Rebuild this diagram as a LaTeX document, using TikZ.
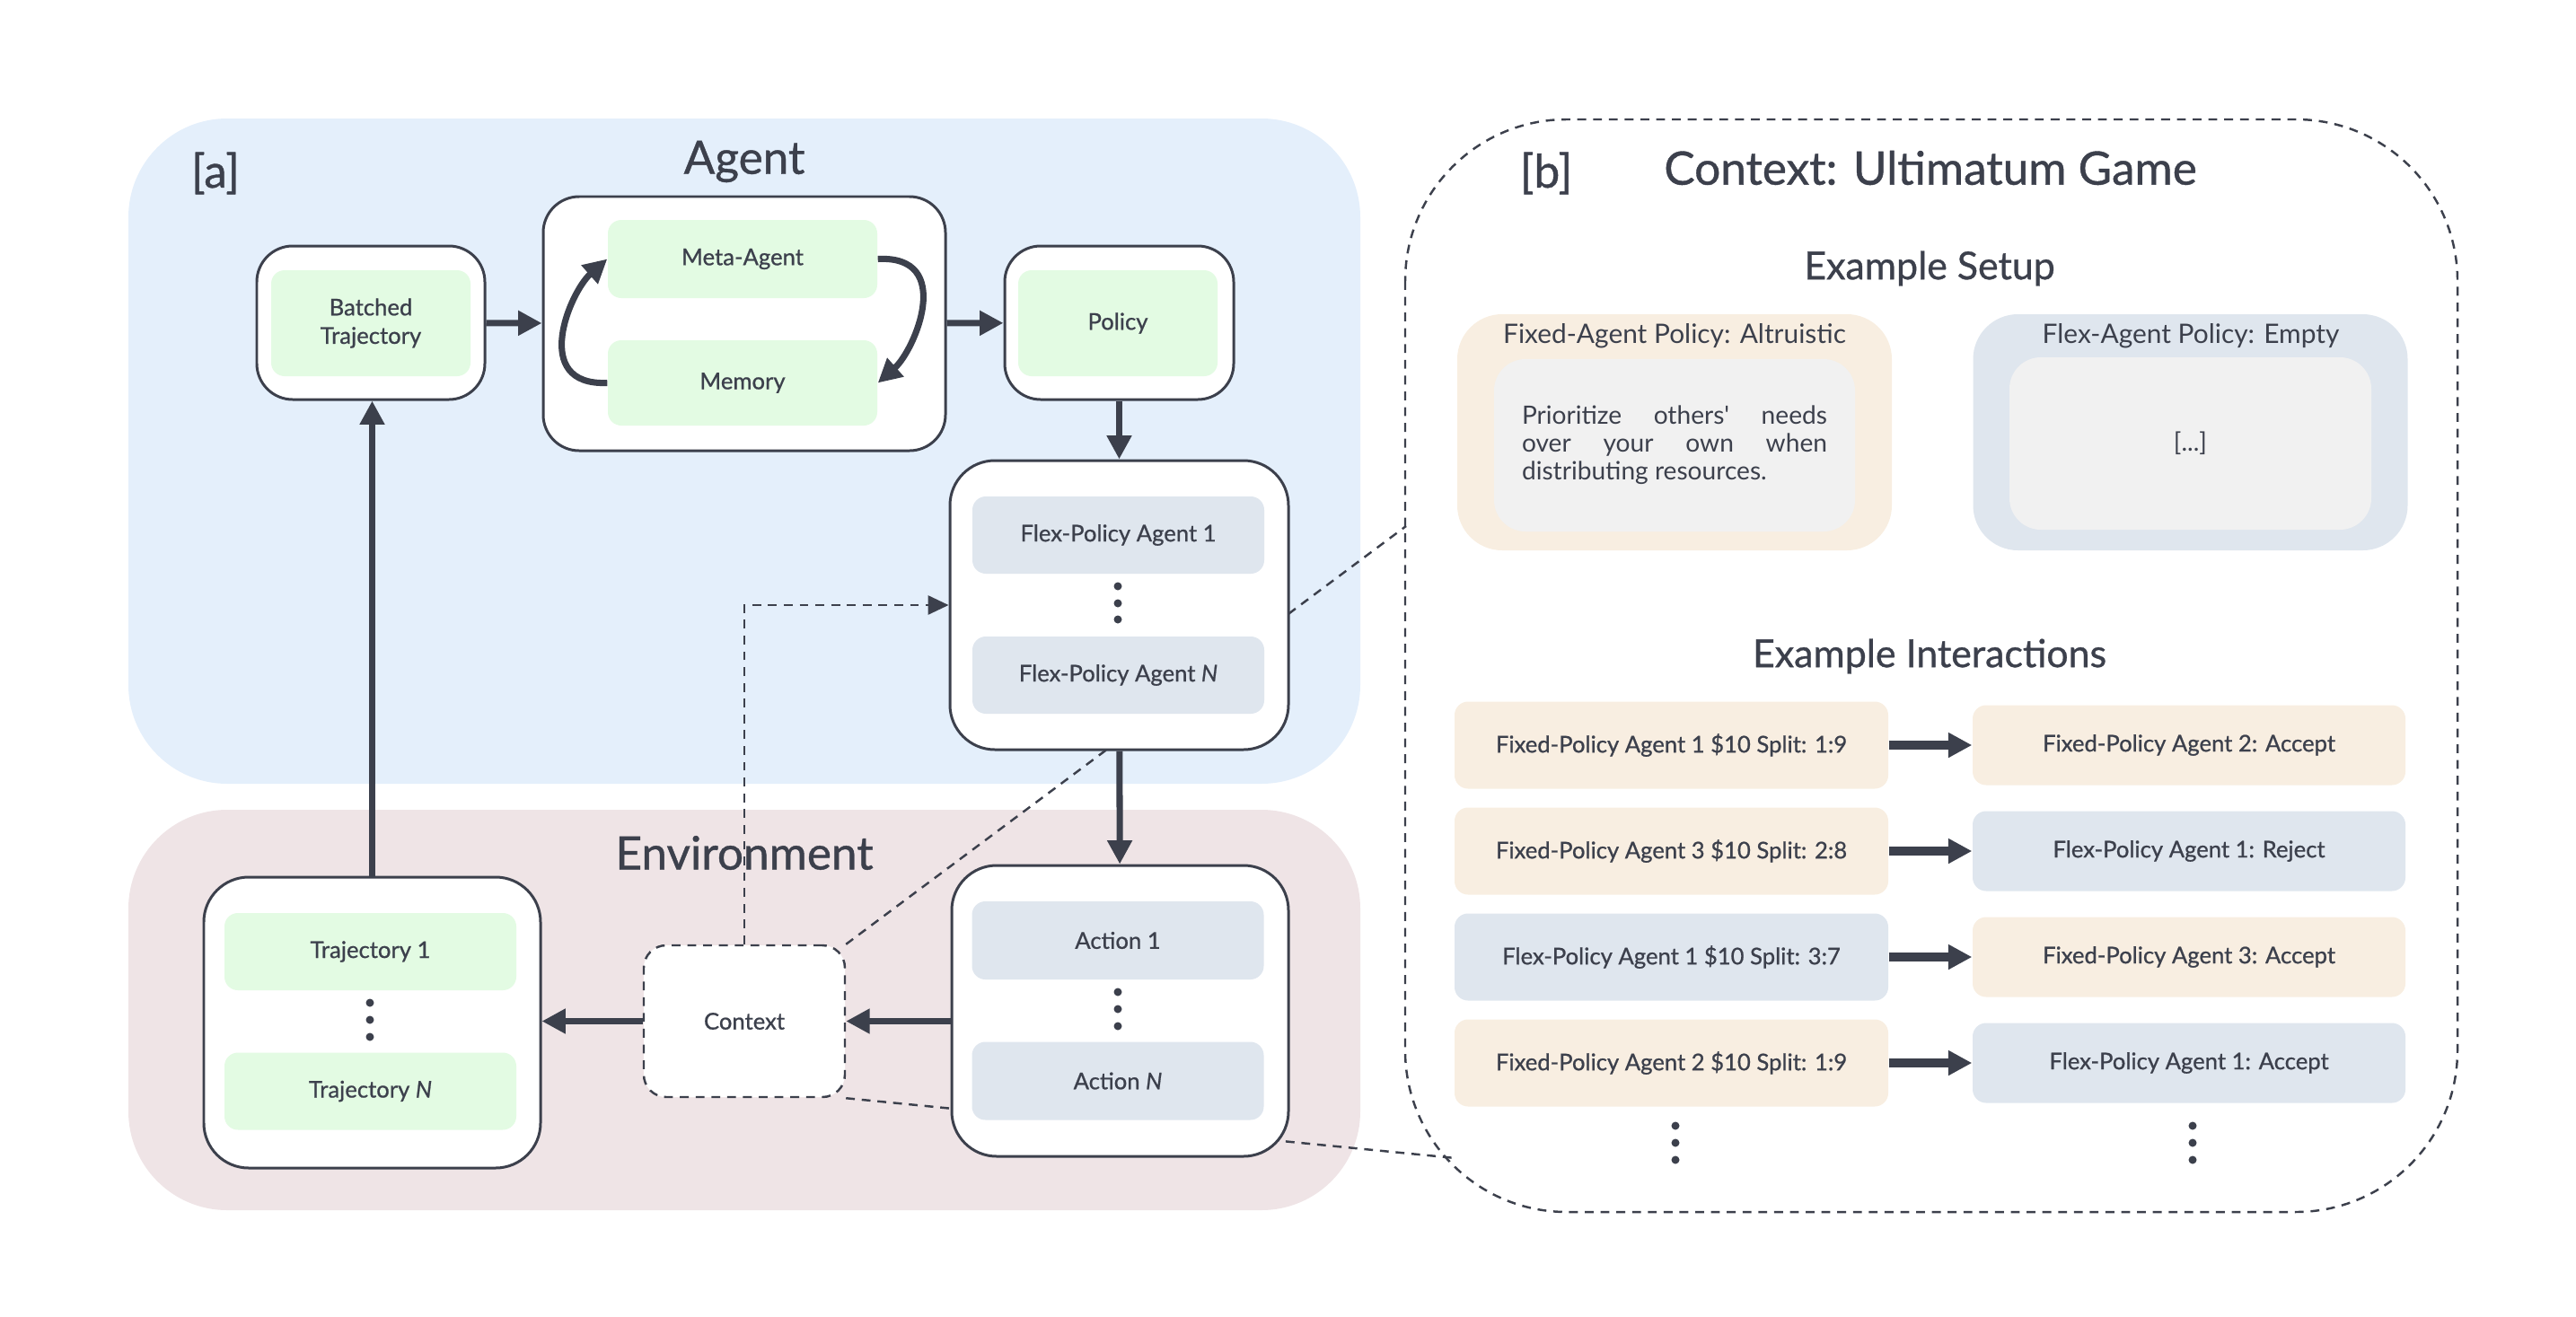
\documentclass[tikz,border=0pt]{standalone}
\usepackage{fontspec}
\setmainfont{Lato}[Ligatures=TeXOff]
\newfontfamily\medfont{Lato}[Ligatures=TeXOff, FakeBold=0.8]
\usetikzlibrary{arrows.meta,positioning,calc}
\definecolor{ink}{HTML}{3C404C}
\definecolor{agentbg}{HTML}{E4EFFB}
\definecolor{envbg}{HTML}{EFE4E6}
\definecolor{mint}{HTML}{E3FBE3}
\definecolor{slate}{HTML}{DFE6EE}
\definecolor{sand}{HTML}{F8EEE1}
\definecolor{paper}{HTML}{F1F1F1}
\tikzset{>={Triangle[length=7.5pt,width=7.5pt]}}
\tikzset{
  outer/.style={draw=ink, line width=0.85pt, fill=white, rounded corners=0.4cm, inner sep=0pt},
  inbox/.style={fill=#1, rounded corners=0.15cm, text=ink, align=center, inner sep=0pt,
    font=\medfont\fontsize{7.3}{9}\selectfont},
  flow/.style={->, draw=ink, line width=2pt},
  dashline/.style={draw=ink, line width=0.7pt, dash pattern=on 2.8pt off 2.2pt},
  bigtitle/.style={text=ink, font=\medfont\fontsize{14.6}{16}\selectfont},
  subtitle/.style={text=ink, font=\medfont\fontsize{12.2}{14}\selectfont},
}

\begin{document}
\begin{tikzpicture}

    \useasboundingbox (0,0) rectangle (28.69,-14.66);

    % regions
    \fill[agentbg, rounded corners=1.1cm] (1.43,-1.32) rectangle (15.15,-8.73);
    \fill[envbg, rounded corners=1.1cm] (1.43,-9.02) rectangle (15.15,-13.48);
    \draw[dashline, rounded corners=1.8cm] (15.65,-1.33) rectangle (27.37,-13.50);

    \node[bigtitle] (atag) at (2.40,-1.93) {[a]};
    \node[bigtitle] (agenttitle) at (8.29,-1.80) {Agent};
    \node[bigtitle] (envtitle) at (8.29,-9.50) {Environment};

    \node[outer, dash pattern=on 2.8pt off 2.2pt, line width=0.7pt, rounded corners=0.25cm,
      minimum width=2.24cm, minimum height=1.69cm, text=ink, font=\medfont\fontsize{7.3}{9}\selectfont]
      (context) at (8.29,-11.375) {Context};

    \coordinate (zoomtop) at (15.66,-5.86);
    \coordinate (zoombot) at (16.21,-12.90);
    \draw[dashline] (context.north east) -- (zoomtop);
    \draw[dashline] (context.south east) -- (zoombot);

    % outer boxes
    \node[outer, minimum width=2.54cm, minimum height=1.71cm] (batched) at (4.13,-3.595) {};
    \node[outer, minimum width=4.48cm, minimum height=2.83cm] (meta) at (8.29,-3.605) {};
    \node[outer, minimum width=2.55cm, minimum height=1.71cm] (policy) at (12.465,-3.595) {};
    \node[outer, rounded corners=0.5cm, minimum width=3.77cm, minimum height=3.22cm] (flex) at (12.465,-6.74) {};
    \node[outer, rounded corners=0.5cm, minimum width=3.75cm, minimum height=3.24cm] (action) at (12.475,-11.26) {};
    \node[outer, rounded corners=0.5cm, minimum width=3.75cm, minimum height=3.24cm] (traj) at (4.145,-11.39) {};

    % inner boxes
    \node[inbox=mint, minimum width=2.22cm, minimum height=1.18cm] (batchedin) at (4.13,-3.60) {Batched\\Trajectory};
    \node[inbox=mint, minimum width=3.00cm, minimum height=0.87cm] (metain) at (8.27,-2.885) {Meta-Agent};
    \node[inbox=mint, minimum width=3.00cm, minimum height=0.95cm] (memin) at (8.27,-4.265) {Memory};
    \node[inbox=mint, minimum width=2.22cm, minimum height=1.18cm] (polin) at (12.45,-3.60) {Policy};
    \node[inbox=slate, minimum width=3.25cm, minimum height=0.86cm] (flex1) at (12.455,-5.96) {Flex-Policy Agent 1};
    \node[inbox=slate, minimum width=3.25cm, minimum height=0.86cm] (flexN) at (12.455,-7.52) {Flex-Policy Agent \textit{N}};
    \node[inbox=slate, minimum width=3.25cm, minimum height=0.87cm] (act1) at (12.45,-10.475) {Action 1};
    \node[inbox=slate, minimum width=3.25cm, minimum height=0.87cm] (actN) at (12.45,-12.04) {Action \textit{N}};
    \node[inbox=mint, minimum width=3.25cm, minimum height=0.86cm] (traj1) at (4.125,-10.60) {Trajectory 1};
    \node[inbox=mint, minimum width=3.25cm, minimum height=0.86cm] (trajN) at (4.125,-12.155) {Trajectory \textit{N}};

    \foreach \y in {6.53,6.72,6.90} \fill[ink] (12.45,-\y) circle (0.045);
    \foreach \y in {11.05,11.24,11.43} \fill[ink] (12.45,-\y) circle (0.045);
    \foreach \y in {11.17,11.36,11.55} \fill[ink] (4.12,-\y) circle (0.045);

    % arrows
    \draw[flow] (batched) -- (meta);
    \draw[flow] (meta) -- (policy);
    \draw[flow] (policy) -- (flex);
    \draw[flow] (flex) -- (action);
    \draw[flow] (action.west |- context) -- (context.east);
    \draw[flow] (context.west) -- (traj.east |- context);
    \draw[flow] (traj.north) -- (traj.north |- batched.south);
    \draw[dashline, ->, >={Triangle[length=6.5pt,width=6pt]}] (context.north) |- (flex.west);

    \draw[flow] (memin.west) .. controls (5.9,-4.3) and (6.35,-3.25) .. (metain.west);
    \draw[flow] (metain.east) .. controls (10.64,-2.84) and (10.19,-3.9) .. (memin.east);

    % context panel
    \node[bigtitle] (btag) at (17.22,-1.93) {[b]};
    \node[bigtitle] (ctxtitle) at (21.50,-1.87) {Context: Ultimatum Game};
    \node[subtitle] (setuptitle) at (21.49,-2.99) {Example Setup};

    \node[fill=sand, rounded corners=0.5cm, minimum width=4.84cm, minimum height=2.63cm] (fixedpol) at (18.65,-4.815) {};
    \node[fill=slate, rounded corners=0.5cm, minimum width=4.84cm, minimum height=2.63cm] (flexpol) at (24.395,-4.815) {};
    \node[text=ink, font=\fontsize{8.5}{10}\selectfont] (fixedtitle) at (18.65,-3.74) {Fixed-Agent Policy: Altruistic};
    \node[text=ink, font=\fontsize{8.5}{10}\selectfont] (flextitle) at (24.40,-3.74) {Flex-Agent Policy: Empty};
    \node[inbox=paper, rounded corners=0.35cm, minimum width=4.02cm, minimum height=1.92cm, font=\fontsize{8}{8.8}\selectfont] (fixedtext) at (18.65,-4.96)
      {\raisebox{-0.1cm}{\parbox{3.40cm}{Prioritize others' needs\linebreak over your own when\linebreak distributing resources.}}};
    \node[inbox=paper, rounded corners=0.35cm, minimum width=4.03cm, minimum height=1.92cm, font=\fontsize{8}{8.8}\selectfont] (flextext) at (24.395,-4.94) {[...]};

    \node[subtitle] (intertitle) at (21.49,-7.31) {Example Interactions};

    \node[inbox=sand, minimum width=4.83cm, minimum height=0.97cm] (offer1) at (18.615,-8.30) {Fixed-Policy Agent 1 \$10 Split: 1:9};
    \node[inbox=sand, minimum width=4.82cm, minimum height=0.89cm] (reply1) at (24.38,-8.30) {Fixed-Policy Agent 2: Accept};
    \node[inbox=sand, minimum width=4.83cm, minimum height=0.97cm] (offer2) at (18.615,-9.48) {Fixed-Policy Agent 3 \$10 Split: 2:8};
    \node[inbox=slate, minimum width=4.82cm, minimum height=0.89cm] (reply2) at (24.38,-9.48) {Flex-Policy Agent 1: Reject};
    \node[inbox=slate, minimum width=4.83cm, minimum height=0.97cm] (offer3) at (18.615,-10.66) {Flex-Policy Agent 1 \$10 Split: 3:7};
    \node[inbox=sand, minimum width=4.82cm, minimum height=0.89cm] (reply3) at (24.38,-10.66) {Fixed-Policy Agent 3: Accept};
    \node[inbox=sand, minimum width=4.83cm, minimum height=0.97cm] (offer4) at (18.615,-11.84) {Fixed-Policy Agent 2 \$10 Split: 1:9};
    \node[inbox=slate, minimum width=4.82cm, minimum height=0.89cm] (reply4) at (24.38,-11.84) {Flex-Policy Agent 1: Accept};

    \draw[flow, line width=2.6pt] (offer1) -- (reply1);
    \draw[flow, line width=2.6pt] (offer2) -- (reply2);
    \draw[flow, line width=2.6pt] (offer3) -- (reply3);
    \draw[flow, line width=2.6pt] (offer4) -- (reply4);

    \foreach \y in {12.54,12.73,12.92} {
        \fill[ink] (18.66,-\y) circle (0.045);
        \fill[ink] (24.42,-\y) circle (0.045);
    }

\end{tikzpicture}
\end{document}
